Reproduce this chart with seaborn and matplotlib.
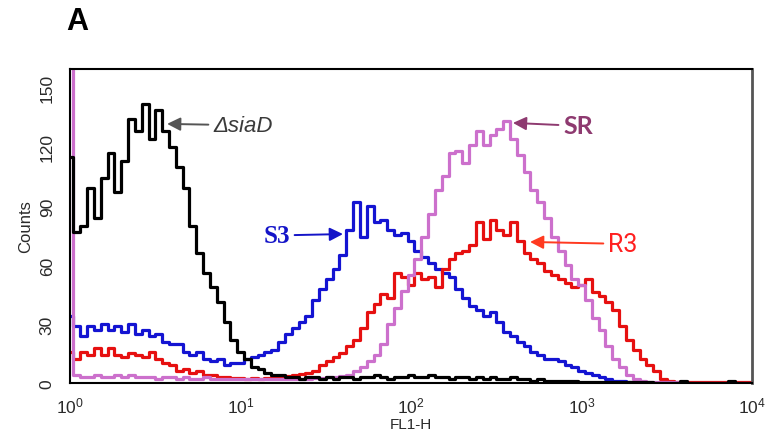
import numpy as np
import pandas as pd
import matplotlib
matplotlib.use("Agg")
import matplotlib.pyplot as plt
import seaborn as sns
from matplotlib.ticker import MultipleLocator, LogLocator, NullFormatter

# ---------------- data (channel grid in log10(FL1-H), counts per series) -------------
log_channel = [round(0.04 * k, 2) for k in range(101)]
fl1_h = [10 ** v for v in log_channel]

delta_siaD = [115, 77, 80, 99, 84, 104, 117, 97, 113, 134, 128, 142, 124, 139, 128, 120,
              110, 99, 80, 66, 56, 49, 41, 31, 22, 16, 12, 8, 7, 5, 4, 4, 3,
              3, 2, 3, 3, 2, 3, 2, 3, 3, 2, 3, 3, 4, 3, 2, 3, 3, 4, 3, 3, 4, 3, 3, 2, 3, 3, 2, 3,
              2, 3, 2, 2, 3, 2, 2, 1, 2,
              1, 1, 1, 1, 1, 0.5, 0.5, 0.5, 0.5, 0.5, 0.5, 0.5, 0.5, 0.5, 0.5, 0.5,
              0, 0, 0, 0, 1, 0, 0, 0, 0, 0, 0, 1, 0, 0, 0]

s3 = [34, 29, 24, 29, 27, 30, 27, 29, 26, 30, 25, 27, 24, 25, 21, 20, 20, 16, 14, 16,
      12, 11, 12, 9, 10, 10, 12, 13, 14, 16, 17, 21, 25, 28, 31, 34, 42, 48, 53, 58,
      65, 78, 92, 74, 90, 82, 83, 78, 75, 76, 72, 67, 64, 61, 58, 56, 54, 48, 43, 39,
      37, 34, 36, 31, 26, 24, 21, 19, 16, 14, 12, 12, 11, 9, 8, 6, 5, 4, 3, 2,
      1, 1, 0.5, 0.5, 0.5, 0, 0, 0, 0, 0, 0, 0, 0, 0, 0, 0, 0, 0, 0, 0, 0]

r3 = [16, 12, 16, 14, 18, 14, 18, 14, 13, 15, 14, 13, 16, 12, 10, 9, 6, 7, 5, 6,
      4, 4, 3, 3, 2.5, 2.5, 2, 2.5, 2, 2.5, 3, 3, 3.5, 4, 4.5, 5, 6, 9, 11, 13,
      15, 19, 22, 28, 36, 40, 45, 43, 56, 54, 50, 56, 53, 54, 49, 58, 63, 66, 67, 70,
      82, 73, 83, 78, 75, 82, 72, 66, 63, 61, 57, 55, 53, 51, 49, 50, 53, 46, 44, 41,
      37, 29, 22, 17, 12, 9, 6, 2, 1, 0.5, 0.5, 0.5, 0.5, 0.5, 0.5, 0.5, 0.5, 0.5, 0.5, 0.5, 0.5]

sr = [170, 4, 3, 3, 4, 3, 3, 4, 3, 4, 3, 3, 3, 2, 3, 3, 2, 3, 2, 2,
      3, 2, 2, 2, 2, 2, 2, 2, 2, 2, 2, 2, 2, 2, 2, 2, 2.5, 2.5, 3, 3,
      3.5, 4, 6, 8, 11, 14, 20, 30, 38, 47, 55, 63, 74, 86, 98, 105, 117, 118, 112, 121,
      128, 121, 126, 129, 133, 124, 116, 107, 98, 92, 84, 74, 67, 60, 53, 50, 42, 33, 27, 19,
      12, 8, 4, 2, 1, 0.5, 0.5, 0.5, 0.5, 0.5, 0.5, 0, 0, 0, 0, 0, 0, 0, 0, 0, 0]

samples = ["S3", "R3", "SR", "\u0394siaD"]
series = [s3, r3, sr, delta_siaD]
colors = ["#1414d2", "#e61010", "#cc70cc", "#000000"]

df = pd.concat([pd.DataFrame({"FL1-H": fl1_h, "Counts": vals, "sample": name})
                for name, vals in zip(samples, series)], ignore_index=True)

# ---------------- styling -------------------------------------------------------
sns.set_theme(style="white")
plt.rcParams["font.family"] = ["Liberation Sans", "DejaVu Sans"]
plt.rcParams["mathtext.fontset"] = "custom"
plt.rcParams["mathtext.rm"] = "Liberation Sans"
plt.rcParams["mathtext.it"] = "Liberation Sans:italic"
plt.rcParams["mathtext.bf"] = "Liberation Sans:bold"

fig = plt.figure(figsize=(7.72, 4.39), dpi=100)
ax = fig.add_axes([70 / 772, 1 - 384 / 439, (752 - 70) / 772, (384 - 70) / 439])

sns.lineplot(data=df, x="FL1-H", y="Counts", hue="sample", hue_order=samples,
             palette=dict(zip(samples, colors)), estimator=None, sort=False,
             drawstyle="steps-mid", linewidth=2.3, legend=False, ax=ax)

ax.set_xscale("log")
ax.set_xlim(1, 10000)
ax.set_ylim(0, 159.6)

ax.xaxis.set_major_locator(LogLocator(base=10, numticks=10))
ax.xaxis.set_minor_locator(LogLocator(base=10, subs=np.arange(2, 10), numticks=20))
ax.xaxis.set_minor_formatter(NullFormatter())
ax.yaxis.set_major_locator(MultipleLocator(30))
ax.yaxis.set_minor_locator(MultipleLocator(6))

ax.tick_params(axis="both", which="major", direction="out", length=5, width=1.2,
               color="black", labelcolor="#2a2a2a")
ax.tick_params(axis="both", which="minor", direction="out", length=3, width=1.0,
               color="black")
ax.tick_params(axis="x", which="major", labelsize=12.5, pad=4)
ax.tick_params(axis="y", which="major", labelsize=12.5, pad=6)
for lab in ax.get_yticklabels():
    lab.set_rotation(90)
    lab.set_va("center")

ax.set_xlabel("FL1-H", fontsize=11, color="#2a2a2a", labelpad=1)
ax.set_ylabel("Counts", fontsize=12, color="#2a2a2a", labelpad=5)

for side in ["left", "top", "bottom"]:
    ax.spines[side].set_color("black")
    ax.spines[side].set_linewidth(1.5)
ax.spines["right"].set_color("#555555")
ax.spines["right"].set_linewidth(2.0)

arrow_kw = dict(arrowstyle="-|>,head_length=0.8,head_width=0.4", mutation_scale=10,
                shrinkA=1, shrinkB=0, linewidth=1.4)

ax.annotate("\u0394siaD", xy=(3.71, 131.7), xytext=(6.9, 131.0), textcoords="data",
            fontsize=16, style="italic", color="#3a3a3a", ha="left", va="center",
            arrowprops=dict(color="#555555", **arrow_kw))
ax.annotate("S3", xy=(39.9, 75.7), xytext=(19.5, 75.0), textcoords="data",
            fontsize=18, fontweight="bold", family=["Liberation Serif"], color="#1414c8",
            ha="right", va="center", arrowprops=dict(color="#1414c8", **arrow_kw))
ax.annotate("SR", xy=(396, 132.2), xytext=(780, 130.7), textcoords="data",
            fontsize=18, fontweight="bold", family=["Lato", "Liberation Sans"], color="#8e3a70",
            ha="left", va="center", arrowprops=dict(color="#8e3a70", **arrow_kw))
ax.annotate("R3", xy=(499, 71.7), xytext=(1430, 70.7), textcoords="data",
            fontsize=18, family=["Roboto", "Liberation Sans"], color="#ff2020",
            ha="left", va="center", arrowprops=dict(color="#ff3a20", **arrow_kw))

fig.text(77 / 772, 1 - 22 / 439, "A", fontsize=22, fontweight="bold", ha="center",
         va="center", color="black")

fig.savefig("out.png", dpi=100)
